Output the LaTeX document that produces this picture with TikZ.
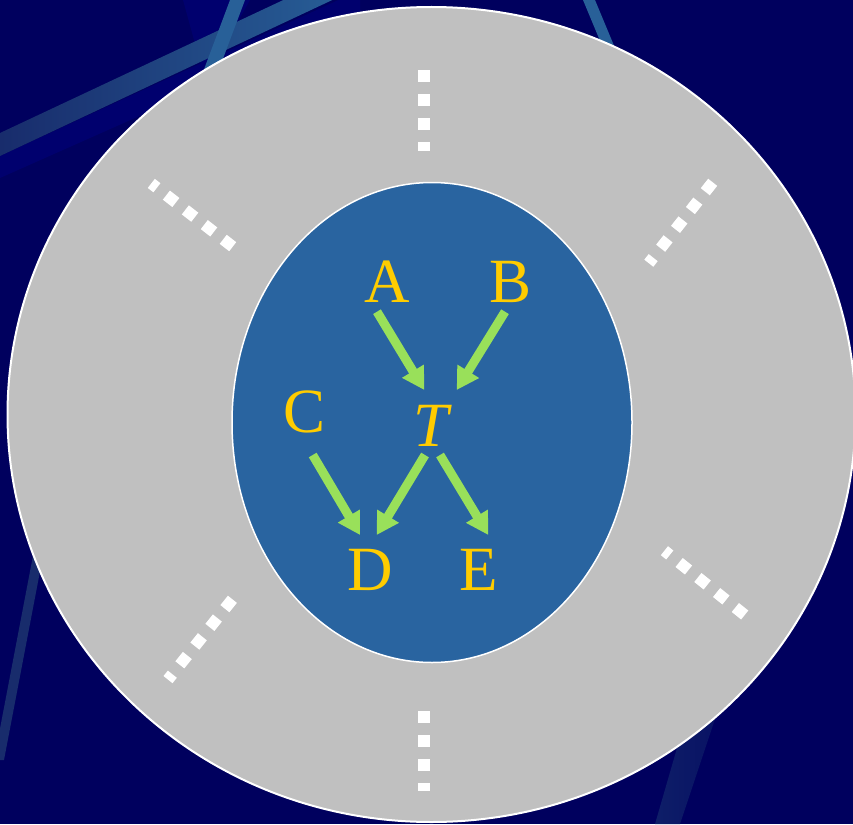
\documentclass[tikz,border=0pt]{standalone}
\usepackage{fontspec}
\setmainfont{Liberation Serif}
\usetikzlibrary{shapes.geometric,arrows.meta}
\definecolor{navy}{RGB}{0,0,94}
\definecolor{navylight}{RGB}{0,0,110}
\definecolor{stripeA}{RGB}{40,96,152}
\definecolor{stripeB}{RGB}{24,44,108}
\definecolor{stripeC}{RGB}{14,30,104}
\definecolor{ringgrey}{RGB}{192,192,192}
\definecolor{coreblue}{RGB}{41,100,160}
\definecolor{labelgold}{RGB}{255,204,0}
\definecolor{arrowgreen}{RGB}{153,224,90}
\begin{document}
\begin{tikzpicture}[x=1pt,y=-1pt,
  lbl/.style={text=labelgold, font=\fontsize{63}{63}\selectfont, inner sep=0pt, anchor=base},
  arr/.style={draw=arrowgreen, line width=9pt, -{Triangle[length=22pt,width=24pt]}},
  tick/.style={draw=white, line width=12pt, dash pattern=on 12pt off 12pt},
  dtick/.style={draw=white, line width=11.5pt, dash pattern=on 12pt off 12pt}]
% background
\fill[navy] (0,0) rectangle (853,824);
\useasboundingbox (0,0) rectangle (853,824);
\begin{scope}
\clip (0,0) rectangle (853,824);
\fill[navylight] (183,0) -- (250,0) -- (205,80) -- cycle;
\fill[navylight] (0,156) -- (360,-10) -- (360,18) -- (0,178) -- cycle;
\shade[left color=stripeB, right color=stripeA] (0,133) -- (360,-36) -- (360,-13) -- (0,156) -- cycle;
\fill[stripeA] (230,0) -- (245,0) -- (215,80) -- (200,80) -- cycle;
\fill[stripeA] (583,0) -- (595,0) -- (620,60) -- (608,60) -- cycle;
\fill[stripeB] (36,540) -- (46,540) -- (4,760) -- (-6,760) -- cycle;
\shade[left color=stripeC, right color=stripeC!60!navy] (688,710) -- (718,710) -- (680,824) -- (655,824) -- cycle;
\end{scope}
% ring and core
\node[ellipse, draw=white, line width=2pt, fill=ringgrey, minimum width=848pt, minimum height=815pt, inner sep=0pt] (ring) at (431.5,414.5) {};
\node[ellipse, draw=white, line width=1.5pt, fill=coreblue, minimum width=400pt, minimum height=480pt, inner sep=0pt] (core) at (432,422.5) {};
% dotted ticks
\draw[tick] (424,70) -- (424,151);
\draw[tick] (424,711) -- (424,791);
\draw[dtick] (232.7,246.7) -- (151.3,183.4);
\draw[dtick] (712.7,182.3) -- (648.8,263.2);
\draw[dtick] (232.4,599.3) -- (168,679.6);
\draw[dtick] (744.7,615) -- (664.4,550.7);
% labels
\node[lbl] (A) at (387,302) {A};
\node[lbl] (B) at (511,302) {B};
\node[lbl] (C) at (305,432) {C};
\node[lbl] (T) at (433,446) {\textit{T}};
\node[lbl] (D) at (370,590) {D};
\node[lbl] (E) at (479,590) {E};
% arrow ends
\coordinate (A-out) at (377,311.7);
\coordinate (B-out) at (505,311.7);
\coordinate (T-inA) at (424.3,390);
\coordinate (T-inB) at (456.7,390);
\coordinate (C-out) at (312.7,455);
\coordinate (TD-out) at (425,455);
\coordinate (TE-out) at (440,455);
\coordinate (D-inC) at (360,535);
\coordinate (D-inT) at (376.7,535);
\coordinate (E-in) at (488.3,535);
\draw[arr] (A-out) -- (T-inA);
\draw[arr] (B-out) -- (T-inB);
\draw[arr] (C-out) -- (D-inC);
\draw[arr] (TD-out) -- (D-inT);
\draw[arr] (TE-out) -- (E-in);
\end{tikzpicture}
\end{document}
